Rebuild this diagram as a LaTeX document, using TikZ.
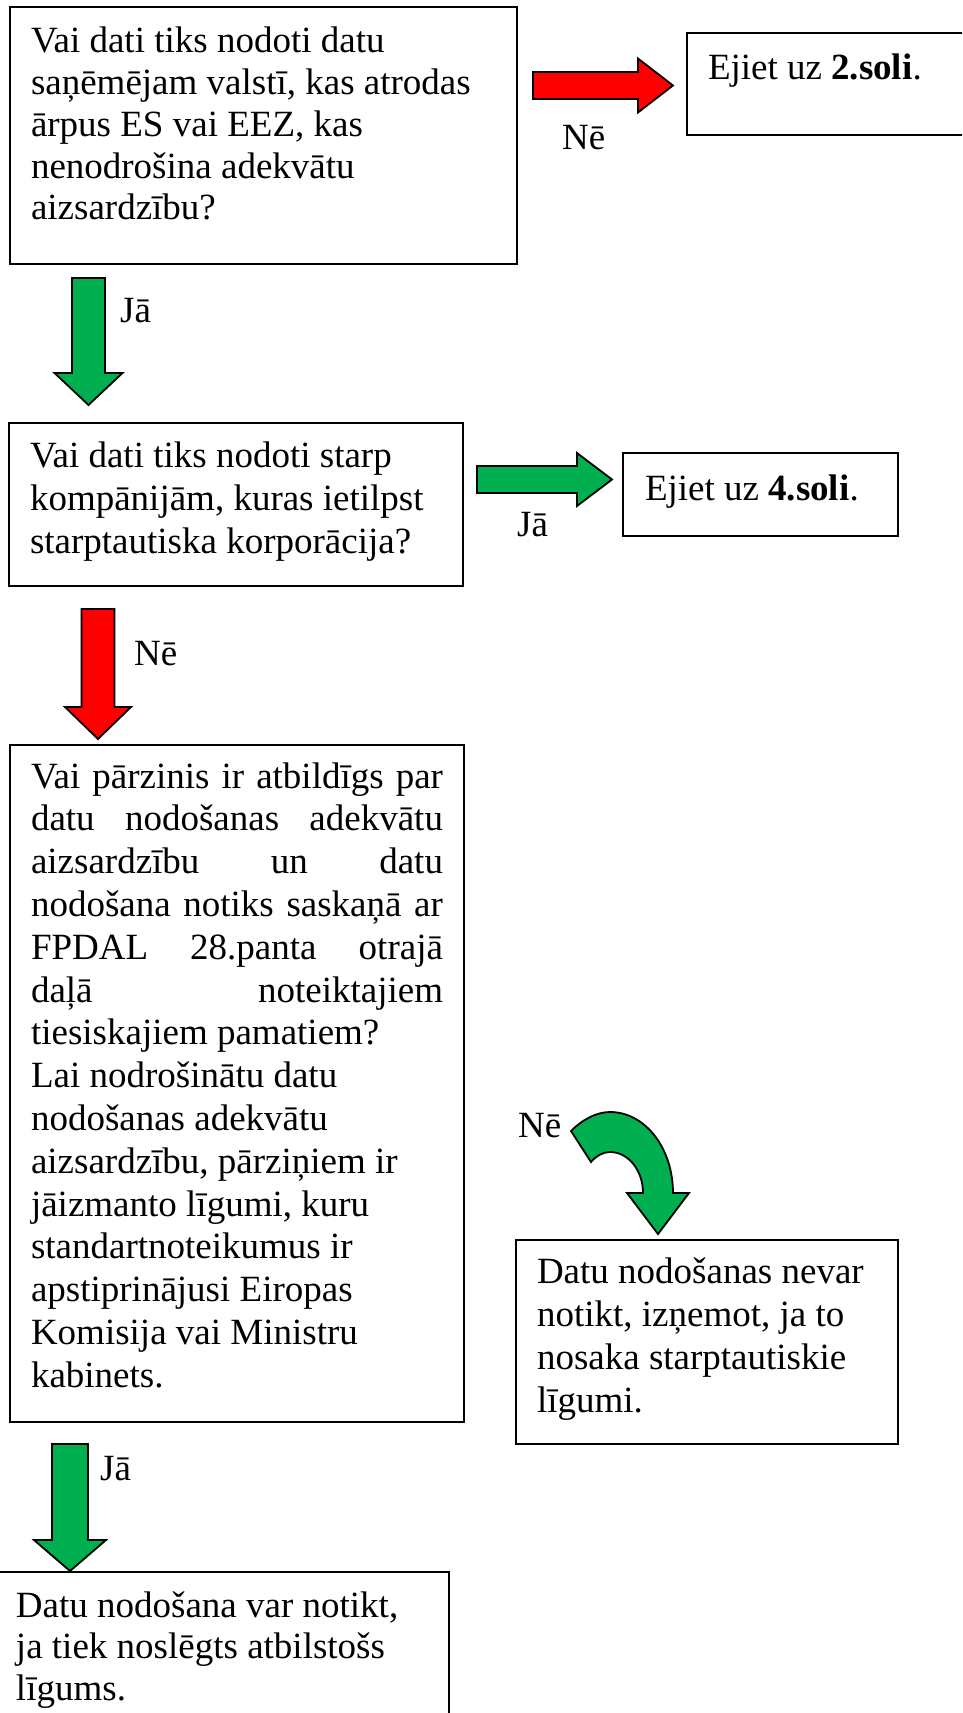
\documentclass[tikz,border=0pt]{standalone}
\usepackage{fontspec}
\setmainfont{Liberation Serif}
\definecolor{arrred}{RGB}{255,0,0}
\definecolor{arrgreen}{RGB}{0,176,80}
\newcommand\harrowdraw[6]{\draw[#1,shift={(#2)}] (0,-#3) -- (#5,-#3) -- (#5,-#4) -- (#6,0) -- (#5,#4) -- (#5,#3) -- (0,#3) -- cycle;}
\newcommand\varrowdraw[6]{\draw[#1,shift={(#2)}] (-#3,0) -- (-#3,#5) -- (-#4,#5) -- (0,#6) -- (#4,#5) -- (#3,#5) -- (#3,0) -- cycle;}
\begin{document}
\begin{tikzpicture}[x=1pt,y=-1pt,
  box/.style={draw=black,line width=2pt,fill=none,inner sep=0pt,outer sep=0pt,anchor=north west},
  txt/.style={inner sep=0pt,outer sep=0pt,anchor=base west},
  redarr/.style={fill=arrred,draw=black,line width=1.8pt,line join=miter},
  greenarr/.style={fill=arrgreen,draw=black,line width=1.8pt,line join=miter},
  lbl/.style={inner sep=0pt,anchor=base west,font=\fontsize{37}{42}\selectfont}]
\useasboundingbox (0,0) rectangle (962,1713);
\clip (0,0) rectangle (962,1713);
% boxes
\node[box,minimum width=507pt,minimum height=257pt] (b1) at (10,7) {};
\node[box,minimum width=293pt,minimum height=102pt] (b2) at (687,33) {};
\node[box,minimum width=454pt,minimum height=163pt] (b3) at (9,423) {};
\node[box,minimum width=275pt,minimum height=83pt] (b4) at (623,453) {};
\node[box,minimum width=454pt,minimum height=677pt] (b5) at (10,745) {};
\node[box,minimum width=382pt,minimum height=204pt] (b6) at (516,1240) {};
\node[box,minimum width=454pt,minimum height=158pt] (b7) at (-5,1572) {};
% texts
\node[txt] (t1) at (31,52) {\parbox[t]{480pt}{\fontsize{37}{42}\selectfont
Vai dati tiks nodoti datu\\
saņēmējam valstī, kas atrodas\\
ārpus ES vai EEZ, kas\\
nenodrošina adekvātu\\
aizsardzību?}};
\node[txt] (t2) at (708,79) {\fontsize{37}{42}\selectfont Ejiet uz \textbf{2.soli}.};
\node[txt] (t3) at (30,467) {\parbox[t]{430pt}{\fontsize{37}{43}\selectfont
Vai dati tiks nodoti starp\\
kompānijām, kuras ietilpst\\
starptautiska korporācija?}};
\node[txt] (t4) at (645,500) {\fontsize{37}{42}\selectfont Ejiet uz \textbf{4.soli}.};
\node[txt] (t5) at (31,788) {\parbox[t]{430pt}{\fontsize{37}{42.8}\selectfont
\makebox[412pt][s]{Vai pārzinis ir atbildīgs par}\\
\makebox[412pt][s]{datu nodošanas adekvātu}\\
\makebox[412pt][s]{aizsardzību un datu}\\
\makebox[412pt][s]{nodošana notiks saskaņā ar}\\
\makebox[412pt][s]{FPDAL 28.panta otrajā}\\
\makebox[412pt][s]{daļā noteiktajiem}\\
tiesiskajiem pamatiem?\\
Lai nodrošinātu datu\\
nodošanas adekvātu\\
aizsardzību, pārziņiem ir\\
jāizmanto līgumi, kuru\\
standartnoteikumus ir\\
apstiprinājusi Eiropas\\
Komisija vai Ministru\\
kabinets.}};
\node[txt] (t6) at (537,1283) {\parbox[t]{360pt}{\fontsize{37}{43}\selectfont
Datu nodošanas nevar\\
notikt, izņemot, ja to\\
nosaka starptautiskie\\
līgumi.}};
\node[txt] (t7) at (16,1617) {\parbox[t]{430pt}{\fontsize{37}{41.5}\selectfont
Datu nodošana var notikt,\\
ja tiek noslēgts atbilstošs\\
līgums.}};
% arrow anchor coordinates
\coordinate (a1s) at (533,85.5);
\coordinate (a3s) at (477,479.5);
\coordinate (a2s) at (88.5,278);
\coordinate (a4s) at (98,609);
\coordinate (a5s) at (70,1444);
% block arrows
\harrowdraw{redarr}{a1s}{13.5}{27}{105}{140}
\harrowdraw{greenarr}{a3s}{13.5}{26.5}{100}{135}
\varrowdraw{greenarr}{a2s}{16.5}{34}{95}{127}
\varrowdraw{redarr}{a4s}{16.5}{33}{98}{130}
\varrowdraw{greenarr}{a5s}{18}{36}{96}{127}
% curved arrow
\draw[greenarr] (571,1131) .. controls (583,1119) and (597,1112) .. (610,1112)
  .. controls (645,1112) and (673,1148) .. (673,1193) -- (689,1193) -- (658,1234)
  -- (627,1193) -- (643,1193) .. controls (643,1170) and (628,1152) .. (610,1152)
  .. controls (603,1152) and (596,1156) .. (591,1162) -- cycle;
% labels
\node[lbl] (l1) at (562,149) {Nē};
\node[lbl] (l2) at (120,322) {Jā};
\node[lbl] (l3) at (517,536) {Jā};
\node[lbl] (l4) at (134,665) {Nē};
\node[lbl] (l5) at (518,1137) {Nē};
\node[lbl] (l6) at (100,1480) {Jā};
\end{tikzpicture}
\end{document}
